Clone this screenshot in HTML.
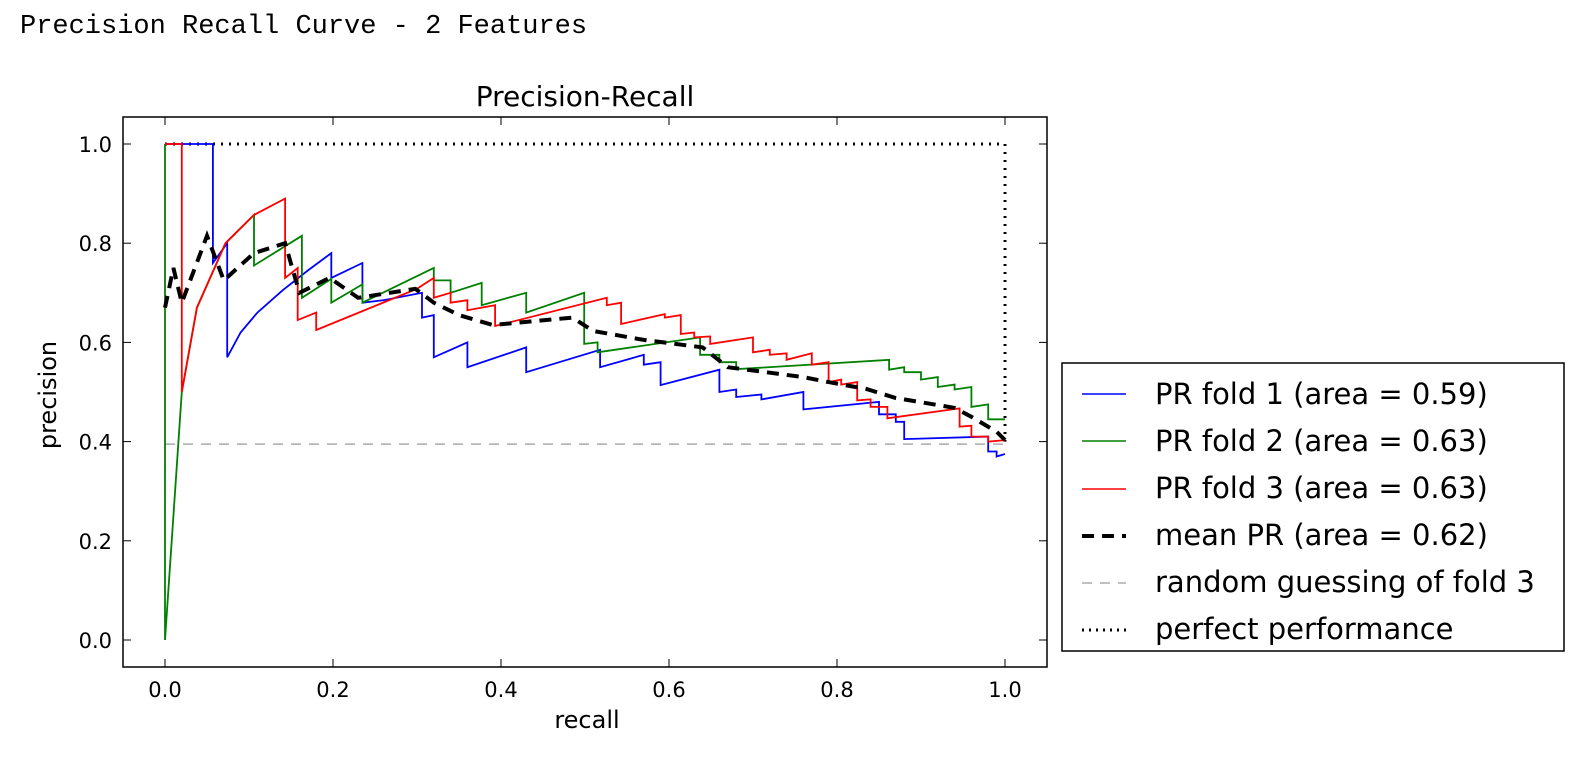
<!DOCTYPE html>
<html><head><meta charset="utf-8"><style>
body{margin:0;background:#fff;width:1592px;height:752px;overflow:hidden}
svg text{font-family:"DejaVu Sans","Liberation Sans",sans-serif}
</style></head><body>
<svg width="1592" height="752" xmlns="http://www.w3.org/2000/svg">
<text x="20" y="33" style="font-family:'Liberation Mono',monospace" font-size="27" fill="#000">Precision Recall Curve - 2 Features</text>
<text x="585" y="106" font-size="28" text-anchor="middle">Precision-Recall</text>
<g id="plot"></g>
<rect x="123" y="117" width="924" height="550" fill="none" stroke="#000" stroke-width="1.5"/>
<text x="587" y="728" font-size="24" text-anchor="middle">recall</text>
<text x="0" y="0" font-size="24" text-anchor="middle" transform="translate(56,395) rotate(-90)">precision</text>
<g>
<rect x="1062" y="363" width="502" height="288" fill="#fff" stroke="#000" stroke-width="1.5"/>
<line x1="1082" y1="394" x2="1126" y2="394" stroke="#0000ff" stroke-width="1.5"/>
<text x="1155" y="404" font-size="29">PR fold 1 (area = 0.59)</text>
<line x1="1082" y1="441" x2="1126" y2="441" stroke="#008000" stroke-width="1.5"/>
<text x="1155" y="451" font-size="29">PR fold 2 (area = 0.63)</text>
<line x1="1082" y1="489" x2="1126" y2="489" stroke="#ff0000" stroke-width="1.5"/>
<text x="1155" y="498" font-size="29">PR fold 3 (area = 0.63)</text>
<line x1="1082" y1="536" x2="1126" y2="536" stroke="#000" stroke-width="4" stroke-dasharray="12,8"/>
<text x="1155" y="545" font-size="29">mean PR (area = 0.62)</text>
<line x1="1082" y1="583" x2="1126" y2="583" stroke="#aaa" stroke-width="1.5" stroke-dasharray="10,8"/>
<text x="1155" y="592" font-size="29">random guessing of fold 3</text>
<line x1="1082" y1="630" x2="1126" y2="630" stroke="#000" stroke-width="3" stroke-dasharray="2,5"/>
<text x="1155" y="639" font-size="29">perfect performance</text>
</g>
</svg>
<script>
const xTicks=[0,0.2,0.4,0.6,0.8,1.0];
const yTicks=[0,0.2,0.4,0.6,0.8,1.0];
const fold1=[[0,1],[0.057,1],[0.057,0.76],[0.074,0.80],[0.074,0.57],[0.09,0.62],[0.11,0.66],[0.14,0.705],[0.17,0.745],[0.198,0.78],[0.198,0.73],[0.235,0.76],[0.235,0.68],[0.26,0.685],[0.306,0.70],[0.306,0.65],[0.32,0.655],[0.32,0.57],[0.36,0.60],[0.36,0.55],[0.43,0.59],[0.43,0.54],[0.518,0.585],[0.518,0.55],[0.57,0.575],[0.57,0.555],[0.59,0.56],[0.59,0.514],[0.66,0.545],[0.66,0.50],[0.68,0.505],[0.68,0.49],[0.71,0.495],[0.71,0.485],[0.76,0.50],[0.76,0.465],[0.85,0.48],[0.85,0.455],[0.87,0.455],[0.87,0.44],[0.88,0.44],[0.88,0.405],[0.98,0.41],[0.98,0.38],[0.99,0.38],[0.99,0.37],[1.0,0.375]];
const fold2=[[0,1],[0,0],[0.02,0.5],[0.038,0.67],[0.072,0.80],[0.106,0.857],[0.106,0.755],[0.163,0.815],[0.163,0.69],[0.198,0.728],[0.198,0.68],[0.235,0.717],[0.235,0.68],[0.32,0.75],[0.32,0.725],[0.34,0.725],[0.34,0.70],[0.377,0.72],[0.377,0.675],[0.43,0.70],[0.43,0.66],[0.499,0.70],[0.499,0.597],[0.515,0.60],[0.515,0.58],[0.637,0.61],[0.637,0.575],[0.66,0.575],[0.66,0.56],[0.68,0.56],[0.68,0.546],[0.862,0.565],[0.862,0.545],[0.88,0.55],[0.88,0.54],[0.9,0.54],[0.9,0.525],[0.92,0.53],[0.92,0.51],[0.94,0.515],[0.94,0.505],[0.96,0.51],[0.96,0.47],[0.98,0.475],[0.98,0.445],[1.0,0.445]];
const fold3=[[0,1],[0.02,1],[0.02,0.5],[0.038,0.67],[0.072,0.80],[0.106,0.857],[0.143,0.89],[0.143,0.73],[0.158,0.75],[0.158,0.645],[0.18,0.66],[0.18,0.625],[0.30,0.708],[0.32,0.73],[0.32,0.69],[0.34,0.70],[0.34,0.68],[0.36,0.685],[0.36,0.665],[0.393,0.675],[0.393,0.633],[0.526,0.69],[0.526,0.675],[0.543,0.68],[0.543,0.637],[0.595,0.657],[0.595,0.65],[0.614,0.655],[0.614,0.617],[0.63,0.62],[0.63,0.61],[0.649,0.612],[0.649,0.597],[0.70,0.61],[0.70,0.58],[0.72,0.585],[0.72,0.575],[0.74,0.578],[0.74,0.565],[0.77,0.578],[0.77,0.555],[0.79,0.56],[0.79,0.52],[0.805,0.525],[0.805,0.515],[0.824,0.52],[0.824,0.483],[0.84,0.485],[0.84,0.47],[0.86,0.47],[0.86,0.447],[0.946,0.467],[0.946,0.43],[0.96,0.432],[0.96,0.41],[0.98,0.41],[0.98,0.40],[1.0,0.403]];
const meanPR=[[0,0.67],[0.01,0.75],[0.02,0.68],[0.05,0.815],[0.07,0.725],[0.106,0.78],[0.143,0.80],[0.16,0.70],[0.196,0.73],[0.23,0.69],[0.298,0.708],[0.32,0.68],[0.35,0.655],[0.39,0.635],[0.485,0.65],[0.51,0.623],[0.57,0.605],[0.64,0.59],[0.67,0.55],[0.76,0.53],[0.79,0.52],[0.835,0.506],[0.87,0.488],[0.94,0.468],[0.96,0.45],[0.99,0.42],[1.0,0.403]];
const randomLevel=0.395;
const perfect=[[0,1],[1,1],[1,0.4]];
const X=v=>165+v*840, Y=v=>640-v*496;
const NS='http://www.w3.org/2000/svg';
const g=document.getElementById('plot');
function mk(t,a){const e=document.createElementNS(NS,t);for(const k in a)e.setAttribute(k,a[k]);g.appendChild(e);return e;}
xTicks.forEach(v=>{
 const t=mk('line',{x1:X(v),x2:X(v),y1:667,y2:659,stroke:'#000'});
 
 
 const t2=mk('line',{x1:X(v),x2:X(v),y1:117,y2:125,stroke:'#000'});
 
 
 const l=mk('text',{x:X(v),y:697,'font-size':21,'text-anchor':'middle'});l.textContent=v.toFixed(1);
 
 
});
yTicks.forEach(v=>{
 const t=mk('line',{x1:123,x2:131,y1:Y(v),y2:Y(v),stroke:'#000'});
 
 
 const t2=mk('line',{x1:1047,x2:1039,y1:Y(v),y2:Y(v),stroke:'#000'});
 
 
 const l=mk('text',{x:112,y:Y(v)+8,'font-size':21,'text-anchor':'end'});l.textContent=v.toFixed(1);
 
 
});
const pts=a=>a.map(p=>X(p[0]).toFixed(1)+','+Y(p[1]).toFixed(1)).join(' ');
const rl=mk('line',{x1:X(0),x2:X(1),y1:Y(randomLevel),y2:Y(randomLevel),stroke:'#aaa','stroke-width':1.5,'stroke-dasharray':'10,8'});


const pf=mk('polyline',{points:pts(perfect),fill:'none',stroke:'#000','stroke-width':3,'stroke-dasharray':'2,6'});


const b=mk('polyline',{points:pts(fold1),fill:'none',stroke:'#0000ff','stroke-width':1.8});


const gr=mk('polyline',{points:pts(fold2),fill:'none',stroke:'#008000','stroke-width':1.8});


const r=mk('polyline',{points:pts(fold3),fill:'none',stroke:'#ff0000','stroke-width':1.8});


const m=mk('polyline',{points:pts(meanPR),fill:'none',stroke:'#000','stroke-width':4,'stroke-dasharray':'12,8'});


</script>
</body></html>
